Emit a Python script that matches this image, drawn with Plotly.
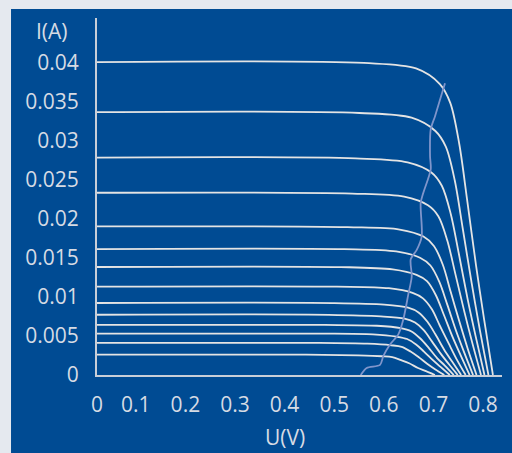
import plotly.graph_objects as go

# ---- data ----
isc = [0.0400, 0.0336, 0.0278, 0.0233, 0.0190, 0.0161, 0.0138,
       0.0113, 0.0092, 0.0077, 0.0064, 0.0053, 0.0041, 0.0026]

v_curves = [
    [0, 0.560, 0.665, 0.713, 0.734, 0.752, 0.768, 0.786, 0.802, 0.820],
    [0, 0.551, 0.656, 0.704, 0.725, 0.743, 0.759, 0.777, 0.793, 0.811],
    [0, 0.543, 0.648, 0.696, 0.717, 0.735, 0.751, 0.769, 0.785, 0.803],
    [0, 0.536, 0.641, 0.689, 0.710, 0.728, 0.744, 0.762, 0.778, 0.796],
    [0, 0.527, 0.632, 0.680, 0.701, 0.719, 0.735, 0.753, 0.769, 0.787],
    [0, 0.520, 0.625, 0.673, 0.694, 0.712, 0.728, 0.746, 0.762, 0.780],
    [0, 0.513, 0.618, 0.666, 0.687, 0.705, 0.721, 0.739, 0.755, 0.773],
    [0, 0.505, 0.610, 0.658, 0.679, 0.697, 0.713, 0.731, 0.747, 0.765],
    [0, 0.496, 0.601, 0.649, 0.670, 0.688, 0.704, 0.722, 0.738, 0.756],
    [0, 0.489, 0.594, 0.642, 0.663, 0.681, 0.697, 0.715, 0.731, 0.749],
    [0, 0.481, 0.586, 0.634, 0.655, 0.673, 0.689, 0.707, 0.723, 0.741],
    [0, 0.473, 0.578, 0.626, 0.647, 0.665, 0.681, 0.699, 0.715, 0.733],
    [0, 0.462, 0.567, 0.615, 0.636, 0.654, 0.670, 0.688, 0.704, 0.722],
    [0, 0.443, 0.548, 0.596, 0.617, 0.635, 0.651, 0.669, 0.685, 0.703],
]

i_curves = [
    [0.0400, 0.0399, 0.0392, 0.0372, 0.0348, 0.0296, 0.0224, 0.0140, 0.0072, 0],
    [0.0336, 0.0335, 0.0329, 0.0312, 0.0292, 0.0249, 0.0188, 0.0118, 0.0060, 0],
    [0.0278, 0.0277, 0.0272, 0.0259, 0.0242, 0.0206, 0.0156, 0.0097, 0.0050, 0],
    [0.0233, 0.0232, 0.0228, 0.0217, 0.0203, 0.0172, 0.0130, 0.0082, 0.0042, 0],
    [0.0190, 0.0189, 0.0186, 0.0177, 0.0165, 0.0141, 0.0106, 0.0067, 0.0034, 0],
    [0.0161, 0.0161, 0.0158, 0.0150, 0.0140, 0.0119, 0.0090, 0.0056, 0.0029, 0],
    [0.0138, 0.0138, 0.0135, 0.0128, 0.0120, 0.0102, 0.0077, 0.0048, 0.0025, 0],
    [0.0113, 0.0113, 0.0111, 0.0105, 0.0098, 0.0084, 0.0063, 0.0040, 0.0020, 0],
    [0.0092, 0.0092, 0.0090, 0.0086, 0.0080, 0.0068, 0.0052, 0.0032, 0.0017, 0],
    [0.0077, 0.0077, 0.0075, 0.0072, 0.0067, 0.0057, 0.0043, 0.0027, 0.0014, 0],
    [0.0064, 0.0064, 0.0063, 0.0060, 0.0056, 0.0047, 0.0036, 0.0022, 0.0012, 0],
    [0.0053, 0.0053, 0.0052, 0.0049, 0.0046, 0.0039, 0.0030, 0.0019, 0.0010, 0],
    [0.0041, 0.0041, 0.0040, 0.0038, 0.0036, 0.0030, 0.0023, 0.0014, 0.0007, 0],
    [0.0026, 0.0026, 0.0025, 0.0024, 0.0023, 0.0019, 0.0015, 0.0009, 0.0005, 0],
]

mpp_v = [0.5535, 0.5655, 0.5924, 0.5990, 0.6125, 0.6293, 0.6393, 0.6494, 0.6563, 0.6543,
         0.6664, 0.6764, 0.6744, 0.6797, 0.6946, 0.6932, 0.6946, 0.7033, 0.7133, 0.7234]
mpp_i = [0.0000, 0.0009, 0.0013, 0.0024, 0.0039, 0.0052, 0.0071, 0.0103, 0.0126, 0.0148,
         0.0160, 0.0177, 0.0220, 0.0233, 0.0263, 0.0280, 0.0314, 0.0331, 0.0352, 0.0373]

x_tick_vals = [0.0218, 0.1, 0.2, 0.3, 0.4, 0.5, 0.6, 0.7, 0.8]
x_tick_text = ["0", "0.1", "0.2", "0.3", "0.4", "0.5", "0.6", "0.7", "0.8"]
y_tick_vals = [0, 0.005, 0.01, 0.015, 0.02, 0.025, 0.03, 0.035, 0.04]
y_tick_text = ["0", "0.005", "0.01", "0.015", "0.02", "0.025", "0.03", "0.035", "0.04"]

x_title = "U(V)"
y_title = "I(A)"

# ---- styling ----
BLUE = "#004b93"
CURVE = "#e4e4e4"
MPP = "#7f95cb"
TXT = "#d6dbe4"
AXIS = "#c9ced8"
FONT = "Open Sans"
FS = 21

fig = go.Figure()
for v, i in zip(v_curves, i_curves):
    fig.add_trace(go.Scatter(x=v, y=i, mode="lines",
                             line=dict(color=CURVE, width=1.8, shape="spline", smoothing=0.9),
                             hoverinfo="skip", showlegend=False))
fig.add_trace(go.Scatter(x=mpp_v, y=mpp_i, mode="lines",
                         line=dict(color=MPP, width=1.8, shape="spline", smoothing=0.8),
                         hoverinfo="skip", showlegend=False))

fig.update_layout(
    width=512, height=453,
    margin=dict(l=97, r=10, t=18, b=78, autoexpand=False),
    paper_bgcolor="#e5e9ef",
    plot_bgcolor="rgba(0,0,0,0)",
    font=dict(family=FONT, size=FS, color=TXT),
    showlegend=False,
    shapes=[dict(type="rect", xref="paper", yref="paper",
                 x0=-0.2123, x1=1.03, y0=-0.23, y1=1.0252,
                 fillcolor=BLUE, line=dict(width=0), layer="below")],
    annotations=[
        dict(text=y_title, xref="paper", yref="paper", x=(52 - 97) / 405, y=(375 - 31.5) / 357,
             xanchor="center", yanchor="middle", showarrow=False,
             font=dict(family=FONT, size=FS, color=TXT)),
        dict(text=x_title, xref="paper", yref="paper", x=(285 - 97) / 405, y=(375 - 437) / 357,
             xanchor="center", yanchor="middle", showarrow=False,
             font=dict(family=FONT, size=FS, color=TXT)),
    ],
)
fig.update_xaxes(range=[0.0218, 0.8383], tickvals=x_tick_vals, ticktext=x_tick_text,
                 showgrid=False, zeroline=False, showline=True, linecolor=AXIS, linewidth=2,
                 ticks="", ticklabelstandoff=10, automargin=False, fixedrange=True)
fig.update_yaxes(range=[0, 0.04565], tickvals=y_tick_vals, ticktext=y_tick_text,
                 showgrid=False, zeroline=False, showline=True, linecolor=AXIS, linewidth=2,
                 ticks="", ticklabelstandoff=12, automargin=False, fixedrange=True)

fig.write_html("out.html", config={"displayModeBar": False},
               post_script="document.body.style.margin='0';document.body.style.padding='0';")
